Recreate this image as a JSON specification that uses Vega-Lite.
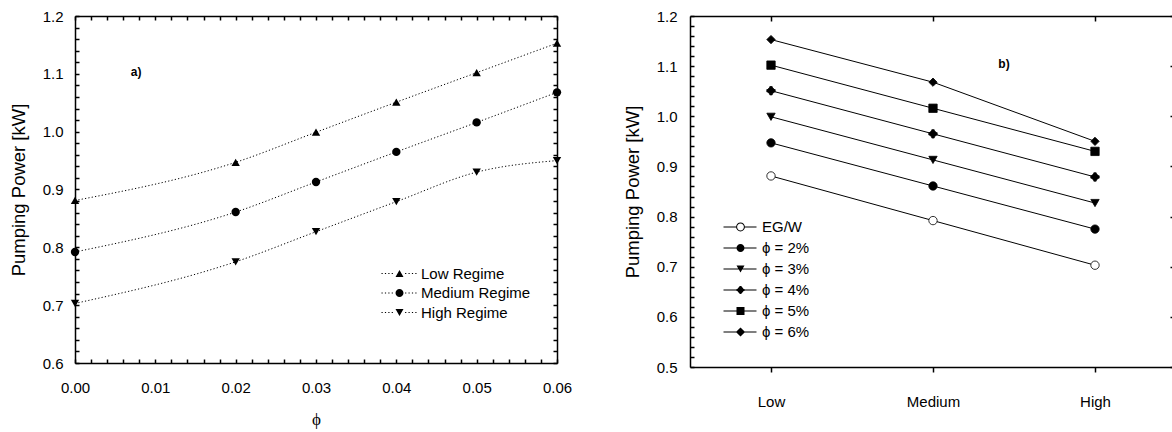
{
  "$schema": "https://vega.github.io/schema/vega-lite/v6.json",
  "background": "white",
  "autosize": {"type": "none"},
  "padding": {"left": 75, "top": 16, "right": 1097, "bottom": 416},
  "datasets": {
    "pp": [
      {"phi": 0, "conc": "EG/W", "regime": "Low", "ri": 1, "regimeLabel": "Low Regime", "power": 0.881},
      {"phi": 0, "conc": "EG/W", "regime": "Medium", "ri": 2, "regimeLabel": "Medium Regime", "power": 0.792},
      {"phi": 0, "conc": "EG/W", "regime": "High", "ri": 3, "regimeLabel": "High Regime", "power": 0.703},
      {"phi": 0.02, "conc": "ϕ = 2%", "regime": "Low", "ri": 1, "regimeLabel": "Low Regime", "power": 0.947},
      {"phi": 0.02, "conc": "ϕ = 2%", "regime": "Medium", "ri": 2, "regimeLabel": "Medium Regime", "power": 0.861},
      {"phi": 0.02, "conc": "ϕ = 2%", "regime": "High", "ri": 3, "regimeLabel": "High Regime", "power": 0.775},
      {"phi": 0.03, "conc": "ϕ = 3%", "regime": "Low", "ri": 1, "regimeLabel": "Low Regime", "power": 0.999},
      {"phi": 0.03, "conc": "ϕ = 3%", "regime": "Medium", "ri": 2, "regimeLabel": "Medium Regime", "power": 0.913},
      {"phi": 0.03, "conc": "ϕ = 3%", "regime": "High", "ri": 3, "regimeLabel": "High Regime", "power": 0.827},
      {"phi": 0.04, "conc": "ϕ = 4%", "regime": "Low", "ri": 1, "regimeLabel": "Low Regime", "power": 1.051},
      {"phi": 0.04, "conc": "ϕ = 4%", "regime": "Medium", "ri": 2, "regimeLabel": "Medium Regime", "power": 0.965},
      {"phi": 0.04, "conc": "ϕ = 4%", "regime": "High", "ri": 3, "regimeLabel": "High Regime", "power": 0.879},
      {"phi": 0.05, "conc": "ϕ = 5%", "regime": "Low", "ri": 1, "regimeLabel": "Low Regime", "power": 1.102},
      {"phi": 0.05, "conc": "ϕ = 5%", "regime": "Medium", "ri": 2, "regimeLabel": "Medium Regime", "power": 1.016},
      {"phi": 0.05, "conc": "ϕ = 5%", "regime": "High", "ri": 3, "regimeLabel": "High Regime", "power": 0.93},
      {"phi": 0.06, "conc": "ϕ = 6%", "regime": "Low", "ri": 1, "regimeLabel": "Low Regime", "power": 1.153},
      {"phi": 0.06, "conc": "ϕ = 6%", "regime": "Medium", "ri": 2, "regimeLabel": "Medium Regime", "power": 1.068},
      {"phi": 0.06, "conc": "ϕ = 6%", "regime": "High", "ri": 3, "regimeLabel": "High Regime", "power": 0.95}
    ]
  },
  "data": {"name": "pp"},
  "config": {
    "view": {"stroke": null},
    "font": "Liberation Sans",
    "axis": {
      "labelFont": "Liberation Sans", "titleFont": "Liberation Sans",
      "labelColor": "black", "titleColor": "black",
      "domainColor": "black", "domainWidth": 1.5,
      "tickColor": "black", "tickWidth": 1.5,
      "grid": false, "labelFontSize": 15, "titleFontWeight": "normal",
      "labelOverlap": false, "labelFlush": false, "labelBound": false, "zindex": 1
    },
    "legend": {"labelFont": "Liberation Sans", "labelFontSize": 15, "labelColor": "black", "padding": 0}
  },
  "spacing": 133,
  "bounds": "flush",
  "resolve": {"scale": {"shape": "independent"}, "legend": {"shape": "independent"}},
  "hconcat": [
    {
      "width": 482,
      "height": 347,
      "layer": [
        {
          "mark": {"type": "line", "interpolate": "monotone", "color": "black", "strokeWidth": 1, "strokeDash": [1.2, 2.2]},
          "encoding": {
            "x": {
              "field": "phi", "type": "quantitative",
              "scale": {"domain": [0, 0.06], "nice": false, "zero": false},
              "axis": {
                "orient": "bottom",
                "values": [0,0.002,0.004,0.006,0.008,0.01,0.012,0.014,0.016,0.018,0.02,0.022,0.024,0.026,0.028,0.03,0.032,0.034,0.036,0.038,0.04,0.042,0.044,0.046,0.048,0.05,0.052,0.054,0.056,0.058,0.06],
                "labelExpr": "abs(datum.value*100 - round(datum.value*100)) < 0.001 ? format(datum.value, '.2f') : ''",
                "tickSize": -4, "labelPadding": 21,
                "title": "ϕ", "titleFont": "Liberation Serif", "titleFontSize": 17, "titlePadding": 16
              }
            },
            "y": {
              "field": "power", "type": "quantitative",
              "scale": {"domain": [0.6, 1.2], "nice": false, "zero": false},
              "axis": {
                "orient": "left",
                "values": [0.6,0.62,0.64,0.66,0.68,0.7,0.72,0.74,0.76,0.78,0.8,0.82,0.84,0.86,0.88,0.9,0.92,0.94,0.96,0.98,1.0,1.02,1.04,1.06,1.08,1.1,1.12,1.14,1.16,1.18,1.2],
                "labelExpr": "abs(datum.value*10 - round(datum.value*10)) < 0.001 ? format(datum.value, '.1f') : ''",
                "tickSize": -4, "labelPadding": 16,
                "title": "Pumping Power [kW]", "titleFontSize": 18.5, "titlePadding": 14
              }
            },
            "detail": {"field": "regimeLabel", "type": "nominal"}
          }
        },
        {
          "mark": {"type": "point", "filled": true, "size": 70, "color": "black", "opacity": 1},
          "encoding": {
            "x": {"field": "phi", "type": "quantitative", "axis": null},
            "y": {"field": "power", "type": "quantitative", "axis": null},
            "shape": {
              "field": "regimeLabel", "type": "nominal",
              "scale": {"domain": ["Low Regime", "Medium Regime", "High Regime"], "range": ["triangle-up", "circle", "triangle-down"]},
              "legend": null
            }
          }
        },
        {
          "mark": {"type": "point", "filled": true, "size": 64, "color": "black", "opacity": 0},
          "encoding": {
            "x": {"field": "phi", "type": "quantitative", "axis": null},
            "y": {"field": "power", "type": "quantitative", "axis": null},
            "shape": {
              "field": "regimeLabel", "type": "nominal",
              "scale": {
                "domain": ["Low Regime", "Medium Regime", "High Regime"],
                "range": [
                  "M0,-0.866L1,0.866L-1,0.866Z M-4.5,-0.125H-4.2V0.125H-4.5Z M-3.65,-0.125H-3.35V0.125H-3.65Z M-2.8,-0.125H-2.5V0.125H-2.8Z M-1.95,-0.125H-1.65V0.125H-1.95Z M1.4,-0.125H1.7V0.125H1.4Z M2.25,-0.125H2.55V0.125H2.25Z M3.1,-0.125H3.4V0.125H3.1Z M3.95,-0.125H4.25V0.125H3.95Z",
                  "M1,0A1,1 0 1,1 -1,0A1,1 0 1,1 1,0Z M-4.5,-0.125H-4.2V0.125H-4.5Z M-3.65,-0.125H-3.35V0.125H-3.65Z M-2.8,-0.125H-2.5V0.125H-2.8Z M-1.95,-0.125H-1.65V0.125H-1.95Z M1.4,-0.125H1.7V0.125H1.4Z M2.25,-0.125H2.55V0.125H2.25Z M3.1,-0.125H3.4V0.125H3.1Z M3.95,-0.125H4.25V0.125H3.95Z",
                  "M0,0.866L-1,-0.866L1,-0.866Z M-4.5,-0.125H-4.2V0.125H-4.5Z M-3.65,-0.125H-3.35V0.125H-3.65Z M-2.8,-0.125H-2.5V0.125H-2.8Z M-1.95,-0.125H-1.65V0.125H-1.95Z M1.4,-0.125H1.7V0.125H1.4Z M2.25,-0.125H2.55V0.125H2.25Z M3.1,-0.125H3.4V0.125H3.1Z M3.95,-0.125H4.25V0.125H3.95Z"
                ]
              },
              "legend": {
                "title": null, "orient": "none", "legendX": 317, "legendY": 250,
                "symbolSize": 64, "symbolOpacity": 1, "symbolFillColor": "black", "symbolStrokeWidth": 0,
                "labelOffset": 14, "rowPadding": 3.5
              }
            }
          }
        },
        {
          "mark": {"type": "point", "opacity": 0},
          "encoding": {
            "x": {
              "field": "phi", "type": "quantitative",
              "axis": {
                "orient": "top", "labels": false, "title": null, "tickSize": -4,
                "values": [0,0.002,0.004,0.006,0.008,0.01,0.012,0.014,0.016,0.018,0.02,0.022,0.024,0.026,0.028,0.03,0.032,0.034,0.036,0.038,0.04,0.042,0.044,0.046,0.048,0.05,0.052,0.054,0.056,0.058,0.06]
              }
            },
            "y": {
              "field": "power", "type": "quantitative",
              "axis": {
                "orient": "right", "labels": false, "title": null, "tickSize": -4,
                "values": [0.6,0.62,0.64,0.66,0.68,0.7,0.72,0.74,0.76,0.78,0.8,0.82,0.84,0.86,0.88,0.9,0.92,0.94,0.96,0.98,1.0,1.02,1.04,1.06,1.08,1.1,1.12,1.14,1.16,1.18,1.2]
              }
            }
          }
        },
        {
          "data": {"values": [{"label": "a)", "phi": 0.0076, "power": 1.103}]},
          "mark": {"type": "text", "fontWeight": "bold", "fontSize": 12, "font": "Liberation Sans", "color": "black"},
          "encoding": {
            "x": {"field": "phi", "type": "quantitative", "axis": null},
            "y": {"field": "power", "type": "quantitative", "axis": null},
            "text": {"field": "label", "type": "nominal"}
          }
        }
      ],
      "resolve": {"axis": {"x": "independent", "y": "independent"}, "scale": {"shape": "independent"}, "legend": {"shape": "independent"}}
    },
    {
      "width": 486,
      "height": 351,
      "layer": [
        {
          "mark": {"type": "line", "color": "black", "strokeWidth": 1},
          "encoding": {
            "x": {
              "field": "ri", "type": "quantitative",
              "scale": {"domain": [0.5, 3.5], "nice": false, "zero": false},
              "axis": {
                "orient": "bottom", "values": [1, 2, 3],
                "labelExpr": "datum.value == 1 ? 'Low' : datum.value == 2 ? 'Medium' : datum.value == 3 ? 'High' : ''",
                "tickSize": 5, "labelPadding": 22, "title": null
              }
            },
            "y": {
              "field": "power", "type": "quantitative",
              "scale": {"domain": [0.5, 1.2], "nice": false, "zero": false},
              "axis": {
                "orient": "left",
                "values": [0.5,0.52,0.54,0.56,0.58,0.6,0.62,0.64,0.66,0.68,0.7,0.72,0.74,0.76,0.78,0.8,0.82,0.84,0.86,0.88,0.9,0.92,0.94,0.96,0.98,1.0,1.02,1.04,1.06,1.08,1.1,1.12,1.14,1.16,1.18,1.2],
                "labelExpr": "abs(datum.value*10 - round(datum.value*10)) < 0.001 ? format(datum.value, '.1f') : ''",
                "tickSize": -4, "labelPadding": 17,
                "title": "Pumping Power [kW]", "titleFontSize": 18.5, "titlePadding": 14
              }
            },
            "detail": {"field": "conc", "type": "nominal"}
          }
        },
        {
          "mark": {"type": "point", "filled": true, "size": 70, "stroke": "black", "strokeWidth": 0.8, "opacity": 1},
          "encoding": {
            "x": {"field": "ri", "type": "quantitative", "axis": null},
            "y": {"field": "power", "type": "quantitative", "axis": null},
            "fill": {"condition": {"test": "datum.conc === 'EG/W'", "value": "white"}, "value": "black"},
            "shape": {
              "field": "conc", "type": "nominal",
              "scale": {
                "domain": ["EG/W", "ϕ = 2%", "ϕ = 3%", "ϕ = 4%", "ϕ = 5%", "ϕ = 6%"],
                "range": ["circle", "circle", "triangle-down", "M0.8,0A0.8,0.8 0 1,1 -0.8,0A0.8,0.8 0 1,1 0.8,0Z M-1,-0.28H1V0.28H-1Z M-0.28,-1H0.28V1H-0.28Z", "square", "diamond"]
              },
              "legend": null
            }
          }
        },
        {
          "mark": {"type": "point", "filled": true, "size": 64, "color": "black", "opacity": 0},
          "encoding": {
            "x": {"field": "ri", "type": "quantitative", "axis": null},
            "y": {"field": "power", "type": "quantitative", "axis": null},
            "shape": {
              "field": "conc", "type": "nominal",
              "scale": {
                "domain": ["EG/W", "ϕ = 2%", "ϕ = 3%", "ϕ = 4%", "ϕ = 5%", "ϕ = 6%"],
                "range": [
                  "M1.1,0A1.1,1.1 0 1,1 -1.1,0A1.1,1.1 0 1,1 1.1,0Z M0.85,0A0.85,0.85 0 1,0 -0.85,0A0.85,0.85 0 1,0 0.85,0Z M-4.25,-0.125H-1.05V0.125H-4.25Z M1.05,-0.125H4V0.125H1.05Z",
                  "M1,0A1,1 0 1,1 -1,0A1,1 0 1,1 1,0Z M-4.25,-0.125H4V0.125H-4.25Z",
                  "M0,0.866L-1,-0.866L1,-0.866Z M-4.25,-0.125H4V0.125H-4.25Z",
                  "M0.8,0A0.8,0.8 0 1,1 -0.8,0A0.8,0.8 0 1,1 0.8,0Z M-1,-0.28H1V0.28H-1Z M-0.28,-1H0.28V1H-0.28Z M-4.25,-0.125H4V0.125H-4.25Z",
                  "M-1,-1H1V1H-1Z M-4.25,-0.125H4V0.125H-4.25Z",
                  "M0,-1.15L1.15,0L0,1.15L-1.15,0Z M-4.25,-0.125H4V0.125H-4.25Z"
                ]
              },
              "legend": {
                "title": null, "orient": "none", "legendX": 43, "legendY": 203.5,
                "symbolSize": 64, "symbolOpacity": 1, "symbolFillColor": "black", "symbolStrokeWidth": 0,
                "labelOffset": 14, "rowPadding": 5
              }
            }
          }
        },
        {
          "mark": {"type": "point", "opacity": 0},
          "encoding": {
            "x": {"field": "ri", "type": "quantitative", "axis": {"orient": "top", "labels": false, "title": null, "tickSize": -5, "values": [1, 2, 3]}},
            "y": {
              "field": "power", "type": "quantitative",
              "axis": {"orient": "right", "labels": false, "title": null, "tickSize": -6, "values": [0.5,0.6,0.7,0.8,0.9,1.0,1.1,1.2]}
            }
          }
        },
        {
          "data": {"values": [{"label": "b)", "ri": 2.438, "power": 1.104}]},
          "mark": {"type": "text", "fontWeight": "bold", "fontSize": 12, "font": "Liberation Sans", "color": "black"},
          "encoding": {
            "x": {"field": "ri", "type": "quantitative", "axis": null},
            "y": {"field": "power", "type": "quantitative", "axis": null},
            "text": {"field": "label", "type": "nominal"}
          }
        }
      ],
      "resolve": {"axis": {"x": "independent", "y": "independent"}, "scale": {"shape": "independent"}, "legend": {"shape": "independent"}}
    }
  ]
}
